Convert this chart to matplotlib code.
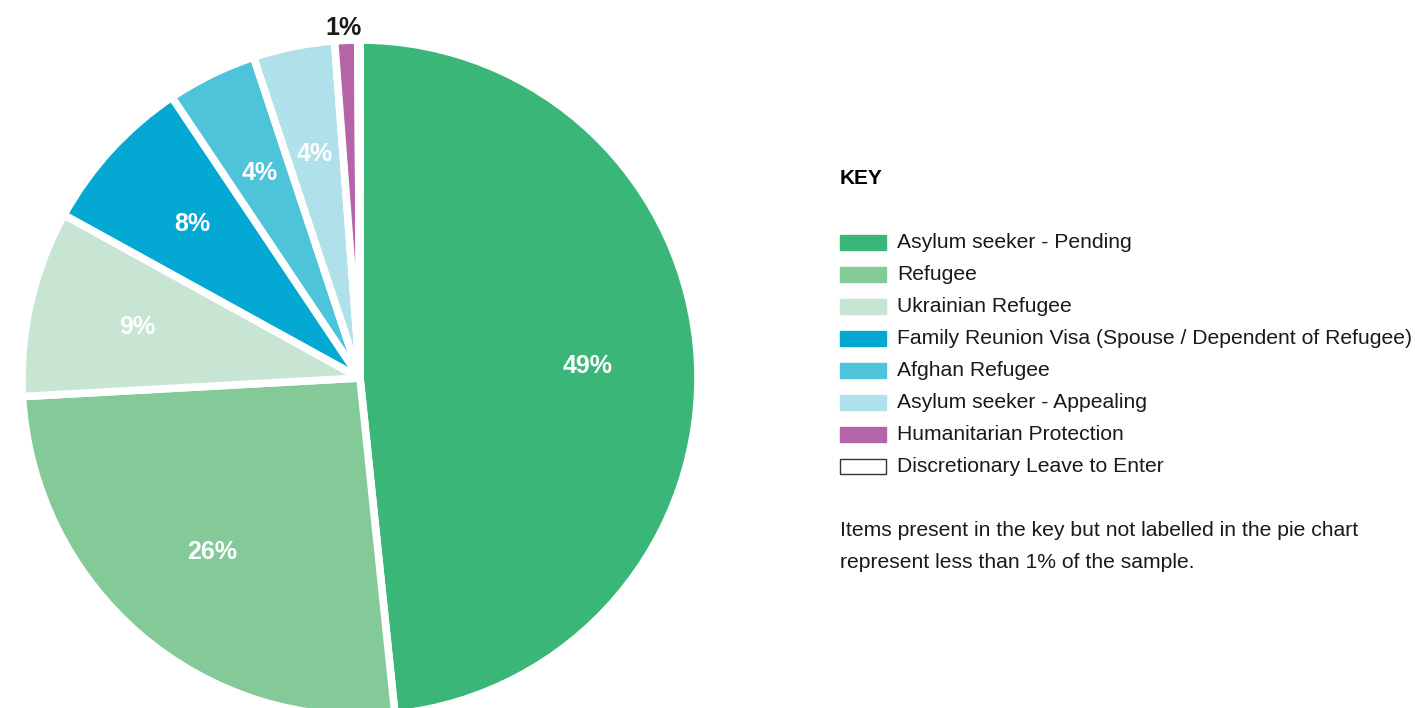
import numpy as np
import matplotlib.pyplot as plt
from matplotlib import patches

plt.rcParams['font.family'] = ['Liberation Sans', 'DejaVu Sans']

# data
categories = ["Asylum seeker - Pending", "Refugee", "Ukrainian Refugee",
              "Family Reunion Visa (Spouse / Dependent of Refugee)", "Afghan Refugee",
              "Asylum seeker - Appealing", "Humanitarian Protection",
              "Discretionary Leave to Enter"]
shares = [48.4, 25.8, 8.9, 7.6, 4.3, 3.9, 1.1, 0.1]
pct_labels = ["49%", "26%", "9%", "8%", "4%", "4%", "1%", ""]
colors = ["#3AB778", "#84CA98", "#C8E5D4", "#03A9D3", "#4EC4DB", "#B0E0EA",
          "#B565A7", "#FFFFFF"]
note_lines = ["Items present in the key but not labelled in the pie chart",
              "represent less than 1% of the sample."]

W, H = 1415, 708
fig = plt.figure(figsize=(W / 100, H / 100), dpi=100)

# pie axes, placed in pixel terms
cx, cy, R = 360, 378, 338
ax = fig.add_axes([(cx - R) / W, (H - cy - R) / H, 2 * R / W, 2 * R / H])
wedges, _ = ax.pie(shares, colors=colors, startangle=90, counterclock=False,
                   wedgeprops=dict(edgecolor="white", linewidth=5.5, joinstyle='bevel'))
ax.set_xlim(-1, 1)
ax.set_ylim(-1, 1)
ax.axis('off')

# percentage labels
for w, lab in zip(wedges, pct_labels):
    mid = np.deg2rad((w.theta1 + w.theta2) / 2)
    if lab == "1%":
        ax.text(1.05 * np.cos(mid) - 0.005, 1.035 * np.sin(mid), lab, ha='center', va='center',
                fontsize=18, fontweight='bold', color='#1a1a1a', clip_on=False)
    elif lab:
        r = 0.675
        ax.text(r * np.cos(mid), r * np.sin(mid), lab, ha='center', va='center',
                fontsize=18, fontweight='bold', color='white')

# key panel in pixel coordinates
kx = fig.add_axes([0, 0, 1, 1], facecolor='none')
kx.set_xlim(0, W)
kx.set_ylim(H, 0)
kx.axis('off')
kx.text(840, 178, "KEY", fontsize=15, fontweight='bold', ha='left', va='center')
for i, (name, col) in enumerate(zip(categories, colors)):
    y = 242 + i * 32
    ec = "#333333" if col == "#FFFFFF" else col
    kx.add_patch(patches.Rectangle((840, y - 7.5), 46, 15, facecolor=col, edgecolor=ec, lw=1))
    kx.text(897, y, name, fontsize=15.2, ha='left', va='center', color='#1a1a1a')
for j, line in enumerate(note_lines):
    kx.text(840, 530 + j * 32, line, fontsize=15.2, ha='left', va='center', color='#1a1a1a')

fig.savefig("out.png", dpi=100)
